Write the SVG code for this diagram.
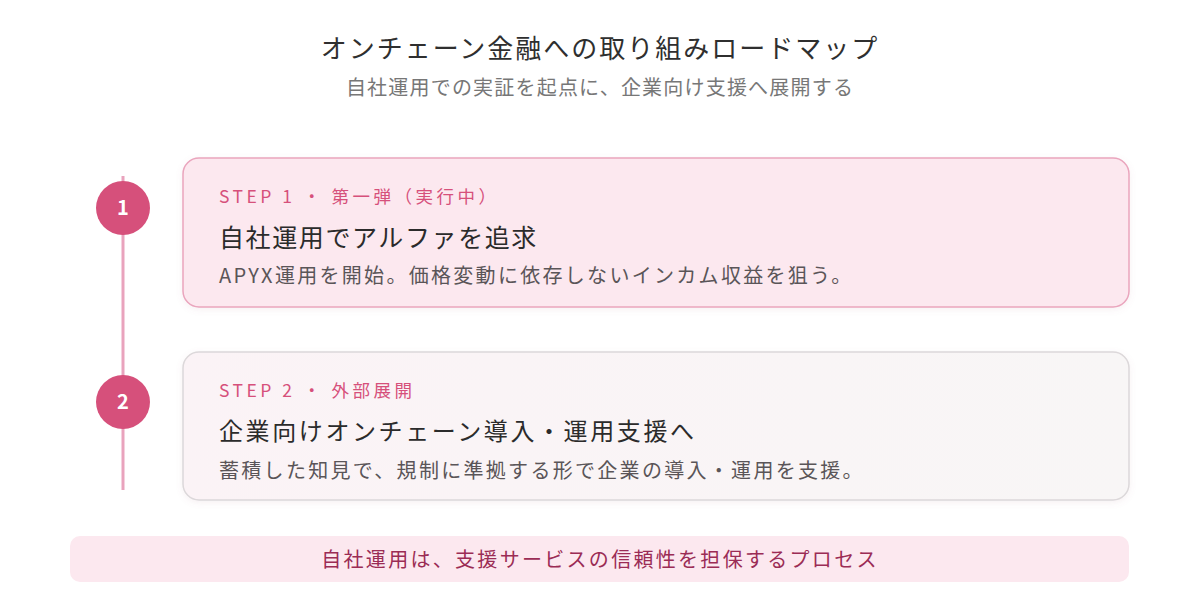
<svg xmlns="http://www.w3.org/2000/svg" width="1200" height="600" viewBox="0 0 1200 600">
  <defs>
    <linearGradient id="g2" x1="0" y1="0" x2="1" y2="0">
      <stop offset="0" stop-color="#fbf3f6"/>
      <stop offset="1" stop-color="#f8f6f6"/>
    </linearGradient>
    <filter id="sh" x="-5%" y="-10%" width="110%" height="130%">
      <feDropShadow dx="0" dy="2" stdDeviation="3" flood-color="#b07088" flood-opacity="0.10"/>
    </filter>
  </defs>
  <style>
    text { font-family: "Noto Sans CJK JP", "Noto Sans", sans-serif; }
    .title { font-size: 26px; font-weight: 400; fill: #2f2f2f; letter-spacing: 2px; }
    .sub { font-size: 20px; fill: #777777; letter-spacing: 1.2px; }
    .step { font-size: 17.5px; fill: #d6507b; letter-spacing: 3.5px; font-weight: 400; }
    .h1 { font-size: 25px; font-weight: 400; fill: #2b2b2b; letter-spacing: 1.6px; }
    .h2 { font-size: 24px; font-weight: 400; fill: #2b2b2b; letter-spacing: 2.6px; }
    .desc { font-size: 20px; fill: #5a5558; letter-spacing: 2.3px; }
    .num { font-size: 20px; font-weight: 700; fill: #ffffff; }
    .dot { fill: #d6507b; }
    .foot { font-size: 20px; fill: #9b2c55; letter-spacing: 2.3px; }
  </style>
  <rect x="0" y="0" width="1200" height="600" fill="#ffffff"/>

  <g id="header">
    <text class="title" x="600" y="58" text-anchor="middle">オンチェーン金融への取り組みロードマップ</text>
    <text class="sub" x="600" y="95" text-anchor="middle">自社運用での実証を起点に、企業向け支援へ展開する</text>
  </g>

  <g id="connectors">
    <line x1="123" y1="176" x2="123" y2="490" stroke="#e9a3bd" stroke-width="3"/>
  </g>

  <g id="step1">
    <rect x="183" y="158" width="946" height="149" rx="16" fill="#fce8ef" stroke="#eaa5bd" stroke-width="1.5" filter="url(#sh)"/>
    <circle class="dot" cx="123" cy="208" r="27"/>
    <text class="num" x="123" y="215" text-anchor="middle">1</text>
    <text class="step" x="219" y="203">STEP 1 ・ 第一弾（実行中）</text>
    <text class="h1" x="219" y="247">自社運用でアルファを追求</text>
    <text class="desc" x="219" y="283">APYX運用を開始。価格変動に依存しないインカム収益を狙う。</text>
  </g>

  <g id="step2">
    <rect x="183" y="352" width="946" height="148" rx="16" fill="url(#g2)" stroke="#dcd8da" stroke-width="1.5" filter="url(#sh)"/>
    <circle class="dot" cx="123" cy="402" r="27"/>
    <text class="num" x="123" y="409" text-anchor="middle">2</text>
    <text class="step" x="219" y="397">STEP 2 ・ 外部展開</text>
    <text class="h2" x="219" y="440">企業向けオンチェーン導入・運用支援へ</text>
    <text class="desc" x="219" y="478">蓄積した知見で、規制に準拠する形で企業の導入・運用を支援。</text>
  </g>

  <g id="footer">
    <rect x="70" y="536" width="1059" height="46" rx="10" fill="#fce8ef"/>
    <text class="foot" x="600" y="567" text-anchor="middle">自社運用は、支援サービスの信頼性を担保するプロセス</text>
  </g>
</svg>
